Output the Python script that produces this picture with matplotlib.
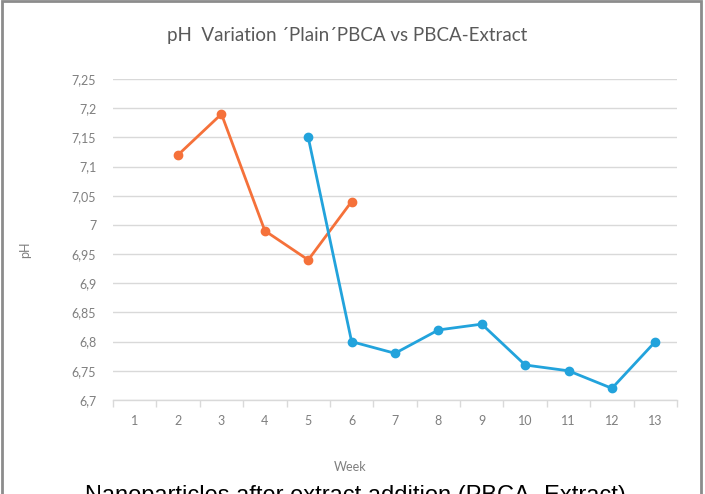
import matplotlib
matplotlib.use("Agg")
import matplotlib.pyplot as plt
from matplotlib.patches import Rectangle
from matplotlib.ticker import FixedLocator, FuncFormatter

# data
weeks = list(range(1, 14))
plain_weeks = [2, 3, 4, 5, 6]
plain_ph = [7.12, 7.19, 6.99, 6.94, 7.04]
extract_weeks = [5, 6, 7, 8, 9, 10, 11, 12, 13]
extract_ph = [7.15, 6.80, 6.78, 6.82, 6.83, 6.76, 6.75, 6.72, 6.80]
y_ticks = [6.7, 6.75, 6.8, 6.85, 6.9, 6.95, 7.0, 7.05, 7.1, 7.15, 7.2, 7.25]

W, H = 705, 494
grey_txt = "#7f7f7f"
grid_col = "#d9d9d9"

plt.rcParams['font.family'] = ['Lato', 'DejaVu Sans']

fig = plt.figure(figsize=(W / 100, H / 100), dpi=100)
ax = fig.add_axes([113 / W, 1 - 400 / H, (677 - 113) / W, (400 - 79) / H])

ax.plot(plain_weeks, plain_ph, color="#f5713a", lw=2.0, marker="o", ms=6, zorder=3)
ax.plot(extract_weeks, extract_ph, color="#22a3dc", lw=2.0, marker="o", ms=6, zorder=3)

ax.set_xlim(0.5, 13.5)
ax.set_ylim(6.7, 7.25)

def comma_fmt(v, pos):
    s = ("%.2f" % v).rstrip("0").rstrip(".")
    return s.replace(".", ",")

ax.yaxis.set_major_locator(FixedLocator(y_ticks))
ax.yaxis.set_major_formatter(FuncFormatter(comma_fmt))
ax.set_xticks(weeks)
ax.set_xticklabels([str(w) for w in weeks])
ax.xaxis.set_minor_locator(FixedLocator([w + 0.5 for w in range(0, 14)]))

ax.grid(axis="y", color=grid_col, lw=1.0)
ax.set_axisbelow(True)
for s in ["top", "right", "left"]:
    ax.spines[s].set_visible(False)
ax.spines["bottom"].set_color(grid_col)
ax.spines["bottom"].set_linewidth(1.0)

ax.tick_params(axis="y", length=0, pad=12, labelsize=9, labelcolor=grey_txt)
ax.tick_params(axis="x", which="major", length=0, pad=11, labelsize=9, labelcolor=grey_txt)
ax.tick_params(axis="x", which="minor", length=5, width=1.0, color=grid_col)

fig.text(347 / W, 1 - 35 / H, "pH  Variation ´Plain´PBCA vs PBCA-Extract",
         ha="center", va="center", fontsize=13.5, color="#595959")
fig.text(350 / W, 1 - 467 / H, "Week", ha="center", va="center",
         fontsize=9, color=grey_txt)
fig.text(25 / W, 1 - 250 / H, "pH", ha="center", va="center", rotation=90,
         fontsize=9, color=grey_txt)

# caption of the surrounding document, cut off by the image edge
fig.text(85 / W, 1 - 485 / H, "Nanoparticles after extract addition (PBCA- Extract)",
         ha="left", va="top", fontsize=17, color="black", family="Liberation Sans")

# grey frame around the chart
fig.patches.append(Rectangle((2 / W, -0.05), (701 - 2) / W, 1.05 - 1 / H,
                             transform=fig.transFigure, fill=False,
                             ec="#8c8c8c", lw=2.0))

fig.savefig("out.png", dpi=100)
